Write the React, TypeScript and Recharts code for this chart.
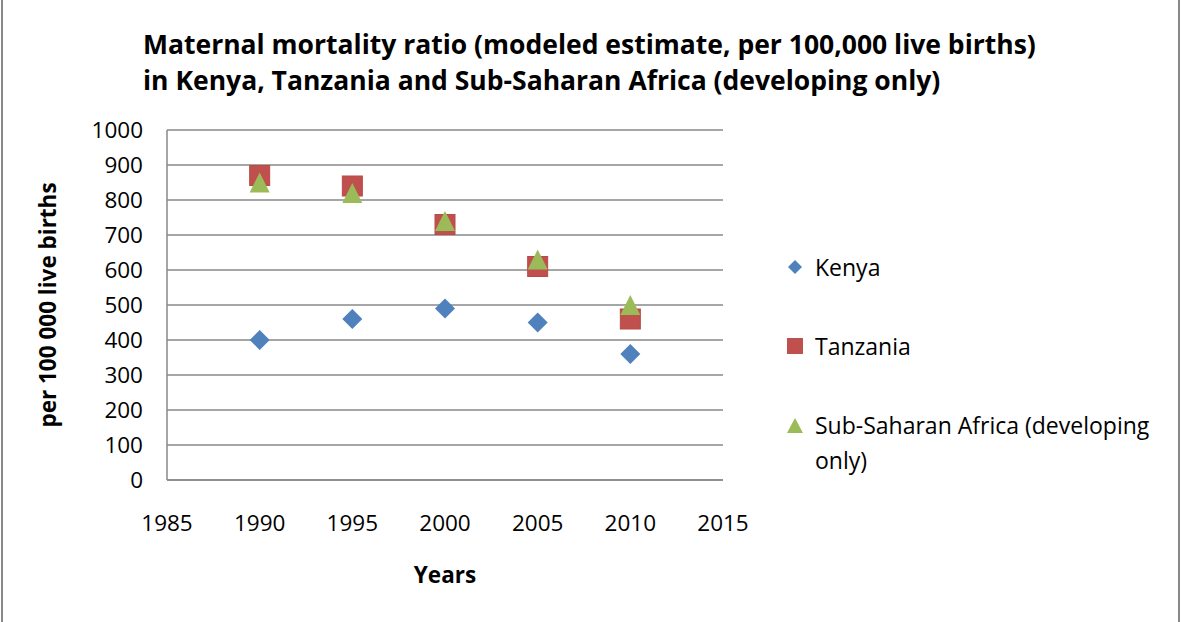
import React from 'react';
import { ScatterChart, Scatter, XAxis, YAxis, CartesianGrid, Legend } from 'recharts';

// Maternal mortality ratio, per 100 000 live births
const years = [1990, 1995, 2000, 2005, 2010];
const kenya = [400, 460, 490, 450, 360];
const tanzania = [870, 840, 730, 610, 460];
const subSaharan = [850, 820, 740, 630, 500];
const xTicks = [1985, 1990, 1995, 2000, 2005, 2010, 2015];
const yTicks = [0, 100, 200, 300, 400, 500, 600, 700, 800, 900, 1000];

const toPoints = (vals: number[]) => years.map((year, i) => ({ year, value: vals[i] }));

const FONT = '"Open Sans", "Noto Sans", sans-serif';
const AXIS_GRAY = '#888888';

const COLORS = { kenya: '#4F81BD', tanzania: '#C0504D', ssa: '#9BBB59' };

const Diamond = (props: any) => {
  const { cx, cy, fill } = props;
  const r = 10;
  return <polygon points={`${cx},${cy - r} ${cx + r},${cy} ${cx},${cy + r} ${cx - r},${cy}`} fill={fill} />;
};

const Square = (props: any) => {
  const { cx, cy, fill } = props;
  return <rect x={cx - 10} y={cy - 10} width={20} height={20} fill={fill} stroke="#b84a47" strokeWidth={1} />;
};

const Triangle = (props: any) => {
  const { cx, cy, fill } = props;
  return <polygon points={`${cx},${cy - 10} ${cx + 10},${cy + 10} ${cx - 10},${cy + 10}`} fill={fill} />;
};

const legendMarker = (kind: string, color: string) => {
  if (kind === 'diamond') return <polygon points="8,1 15,8 8,15 1,8" fill={color} />;
  if (kind === 'square') return <rect x={0} y={0} width={16} height={16} fill={color} />;
  return <polygon points="8,1 16,16 0,16" fill={color} />;
};

const legendItems = [
  { label: 'Kenya', kind: 'diamond', color: COLORS.kenya, top: 0 },
  { label: 'Tanzania', kind: 'square', color: COLORS.tanzania, top: 79 },
  { label: 'Sub-Saharan Africa (developing only)', kind: 'triangle', color: COLORS.ssa, top: 158 },
];

const CustomLegend = () => (
  <div style={{ position: 'relative', width: 380, height: 240, fontFamily: FONT, fontSize: 23, color: '#000' }}>
    {legendItems.map((it) => (
      <div key={it.label} style={{ position: 'absolute', left: 0, top: it.top, display: 'flex', alignItems: 'flex-start' }}>
        <svg width={17} height={17} style={{ marginTop: 9, marginRight: 11 }}>
          {legendMarker(it.kind, it.color)}
        </svg>
        <div style={{ width: 350, lineHeight: '35px' }}>{it.label}</div>
      </div>
    ))}
  </div>
);

export default function App() {
  return (
    <div style={{ position: 'absolute', left: 0, top: 0, width: 1181, height: 622, background: '#fff', overflow: 'hidden' }}>
      <div style={{ position: 'absolute', left: 1, top: 0, width: 2, height: 622, background: AXIS_GRAY }} />
      <div style={{ position: 'absolute', left: 1178, top: 0, width: 2, height: 622, background: AXIS_GRAY }} />
      <div
        style={{
          position: 'absolute',
          left: 143,
          top: 26,
          fontFamily: FONT,
          fontWeight: 700,
          fontSize: 26.5,
          lineHeight: '36px',
          color: '#000',
          whiteSpace: 'nowrap',
        }}
      >
        Maternal mortality ratio (modeled estimate, per 100,000 live births)
        <br />
        in Kenya, Tanzania and Sub-Saharan Africa (developing only)
      </div>
      <ScatterChart
        width={1181}
        height={622}
        margin={{ top: 130, right: 458, bottom: 112, left: 107 }}
        style={{ position: 'absolute', left: 0, top: 0 }}
      >
        <CartesianGrid vertical={false} stroke={AXIS_GRAY} strokeWidth={1.5} horizontalValues={yTicks} />
        <XAxis
          type="number"
          dataKey="year"
          domain={[1985, 2015]}
          ticks={xTicks}
          interval={0}
          allowDataOverflow
          height={30}
          tickLine={false}
          tickSize={0}
          tickMargin={35}
          axisLine={{ stroke: AXIS_GRAY, strokeWidth: 1.5 }}
          tick={{ fill: '#000', fontSize: 22.5, fontFamily: FONT }}
        />
        <YAxis
          type="number"
          dataKey="value"
          domain={[0, 1000]}
          ticks={yTicks}
          interval={0}
          width={60}
          tickLine={false}
          tickSize={0}
          tickMargin={24}
          axisLine={{ stroke: AXIS_GRAY, strokeWidth: 1.5 }}
          tick={{ fill: '#000', fontSize: 22.5, fontFamily: FONT }}
        />
        <Legend
          layout="vertical"
          align="center"
          verticalAlign="middle"
          content={<CustomLegend />}
          wrapperStyle={{ position: 'absolute', left: 787, top: 250, width: 380 }}
        />
        <Scatter name="Kenya" data={toPoints(kenya)} fill={COLORS.kenya} shape={<Diamond />} isAnimationActive={false} />
        <Scatter name="Tanzania" data={toPoints(tanzania)} fill={COLORS.tanzania} shape={<Square />} isAnimationActive={false} />
        <Scatter
          name="Sub-Saharan Africa (developing only)"
          data={toPoints(subSaharan)}
          fill={COLORS.ssa}
          shape={<Triangle />}
          isAnimationActive={false}
        />
      </ScatterChart>
      <div
        style={{
          position: 'absolute',
          left: 345,
          top: 560,
          width: 200,
          textAlign: 'center',
          fontFamily: FONT,
          fontWeight: 700,
          fontSize: 22.5,
          lineHeight: '30px',
        }}
      >
        Years
      </div>
      <div
        style={{
          position: 'absolute',
          left: 48 - 150,
          top: 305 - 15,
          width: 300,
          height: 30,
          lineHeight: '30px',
          textAlign: 'center',
          transform: 'rotate(-90deg)',
          fontFamily: FONT,
          fontWeight: 700,
          fontSize: 22.5,
          whiteSpace: 'nowrap',
        }}
      >
        per 100 000 live births
      </div>
    </div>
  );
}
